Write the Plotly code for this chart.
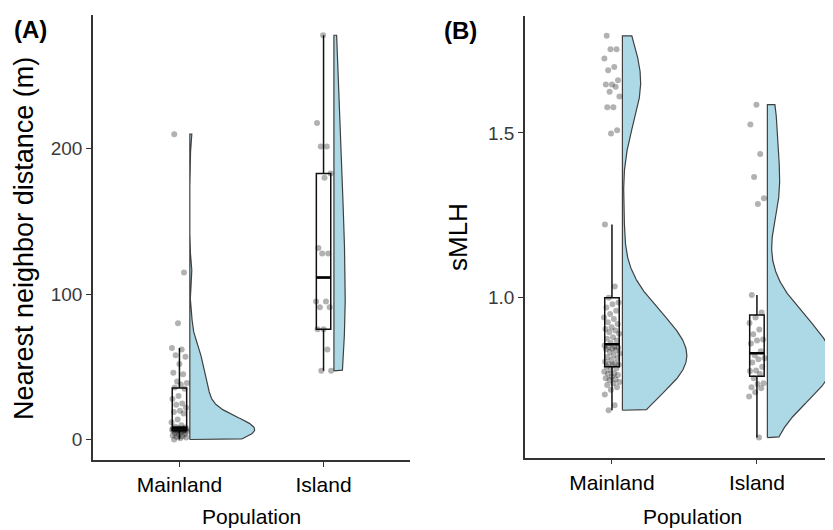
import numpy as np
import plotly.graph_objects as go

# ---------------- data ----------------
categories = ["Mainland", "Island"]

# (A) Nearest neighbor distance (m)
nnd_mainland = [210, 115, 80, 63, 62, 58, 57, 52, 46, 45, 40, 39, 38, 36,
                35, 30, 28, 25, 24, 22, 20, 19, 18, 14, 12, 10, 9, 8.5,
                8, 7.9, 7.8, 7.6, 7.5, 7.4, 7.2, 7.1, 7, 6.9, 6.8, 6.7, 6.6, 6.5,
                6.2, 6, 5.8, 5.5, 5, 4.5, 4, 3.5, 3, 2.5, 2, 1.5, 1, 0.2]
nnd_island = [278, 217.6, 201.6, 201.6, 183, 180, 131.7, 128, 128,
              95, 95, 91, 91, 76, 76, 62, 47.4, 47.4]

# (B) sMLH
smlh_mainland = [1.795, 1.754, 1.754, 1.726, 1.70, 1.69, 1.66, 1.647, 1.647, 1.640,
                 1.625, 1.611, 1.578, 1.578, 1.508, 1.498, 1.222, 1.034, 1.0,
                 0.985, 0.98, 0.97, 0.96, 0.95, 0.94, 0.935, 0.925, 0.92, 0.91,
                 0.905, 0.90, 0.895, 0.89, 0.88, 0.875, 0.87, 0.862,
                 0.855, 0.852, 0.85, 0.848, 0.845, 0.843, 0.84, 0.835, 0.83,
                 0.825, 0.82, 0.815, 0.81, 0.805, 0.80, 0.798, 0.796, 0.795,
                 0.79, 0.785, 0.78, 0.775, 0.77, 0.769, 0.765, 0.76, 0.755,
                 0.752, 0.75, 0.744, 0.74, 0.735, 0.728, 0.72, 0.706, 0.673, 0.658]
smlh_island = [1.586, 1.526, 1.436, 1.366, 1.302, 1.284, 1.008, 0.955,
               0.940, 0.923, 0.903, 0.889, 0.873, 0.870, 0.861, 0.837,
               0.825, 0.816, 0.813, 0.803, 0.79, 0.779, 0.777, 0.768,
               0.755, 0.74, 0.738, 0.728, 0.725, 0.713, 0.70, 0.575]

yticks_a = [0, 100, 200]
yticks_b = [1.0, 1.5]
ytick_text_b = ["1.0", "1.5"]

panel_labels = ["(A)", "(B)"]
ytitles = ["Nearest neighbor distance (m)", "sMLH"]
xtitle = "Population"

# ---------------- style ----------------
FONT = "Liberation Sans, Arial, Helvetica, sans-serif"
VIOLIN_FILL = "#ADD8E6"
VIOLIN_LINE = "#404040"
AX_COL = "#333333"
BW_ADJUST_A = [1.0, 1.6]   # kernel bandwidth multipliers (Mainland, Island)
BW_ADJUST_B = [1.5, 1.5]


def bw_nrd0(x):
    x = np.asarray(x, float)
    sd = x.std(ddof=1)
    q75, q25 = np.percentile(x, [75, 25])
    lo = min(sd, (q75 - q25) / 1.34)
    return 0.9 * lo * len(x) ** -0.2


def kde(x, adjust, n=512):
    x = np.asarray(x, float)
    bw = bw_nrd0(x) * adjust
    grid = np.linspace(x.min(), x.max(), n)
    d = np.exp(-0.5 * ((grid[:, None] - x[None, :]) / bw) ** 2).sum(1)
    d /= len(x) * bw * np.sqrt(2 * np.pi)
    return grid, d


def jitter(n, amp, phase):
    k = np.arange(n)
    frac = (k * 0.6180339887 + phase) % 1.0
    return amp * (2 * frac - 1)


fig = go.Figure()

panels = [
    dict(groups=[nnd_mainland, nnd_island], adj=BW_ADJUST_A, xa="x", ya="y"),
    dict(groups=[smlh_mainland, smlh_island], adj=BW_ADJUST_B, xa="x2", ya="y2"),
]

NUDGE = 0.072
HALF_W = 0.45
BOX_W = 0.1

for p in panels:
    dens = [kde(g, a) for g, a in zip(p["groups"], p["adj"])]
    dmax = max(d.max() for _, d in dens)
    for i, (vals, (grid, d)) in enumerate(zip(p["groups"], dens)):
        x0 = i + NUDGE
        # half violin
        vx = np.concatenate([[x0], x0 + HALF_W * d / dmax, [x0, x0]])
        vy = np.concatenate([[grid[0]], grid, [grid[-1], grid[0]]])
        fig.add_trace(go.Scatter(x=vx, y=vy, mode="lines", fill="toself",
                                 fillcolor=VIOLIN_FILL,
                                 line=dict(color=VIOLIN_LINE, width=1.2),
                                 xaxis=p["xa"], yaxis=p["ya"],
                                 hoverinfo="skip", showlegend=False))
        # box
        fig.add_trace(go.Box(y=vals, x0=i, width=BOX_W, boxpoints="outliers",
                             marker=dict(opacity=0, size=0.1),
                             quartilemethod="linear", whiskerwidth=0,
                             fillcolor="white",
                             line=dict(color="#111111", width=1.5),
                             xaxis=p["xa"], yaxis=p["ya"], showlegend=False))
        # thick median
        med = float(np.median(vals))
        fig.add_trace(go.Scatter(x=[i - BOX_W / 2, i + BOX_W / 2], y=[med, med],
                                 mode="lines", line=dict(color="black", width=2.6),
                                 xaxis=p["xa"], yaxis=p["ya"],
                                 hoverinfo="skip", showlegend=False))
        # jittered points
        fig.add_trace(go.Scatter(x=i + jitter(len(vals), 0.055, 0.17 + 0.3 * i),
                                 y=vals, mode="markers",
                                 marker=dict(size=6, color="rgba(0,0,0,0.3)"),
                                 xaxis=p["xa"], yaxis=p["ya"],
                                 showlegend=False))

W, H = 833, 530
OFF = 8  # page body margin around the plot div


def px_x(v):
    return (v - OFF) / W


def px_y(v):
    return 1 - (v - OFF) / H


xcommon = dict(tickvals=[0, 1], ticktext=categories, ticks="outside", ticklen=5,
               tickcolor=AX_COL, tickwidth=1.2, showline=True, linecolor=AX_COL,
               linewidth=1.5, showgrid=False, zeroline=False,
               tickfont=dict(family=FONT, size=21, color="black"))
ycommon = dict(ticks="outside", ticklen=5, tickcolor=AX_COL, tickwidth=1.2,
               showline=True, linecolor=AX_COL, linewidth=1.5, showgrid=False,
               zeroline=False, tickfont=dict(family=FONT, size=19, color="#3a3a3a"))

fig.update_layout(
    width=W, height=H, margin=dict(l=0, r=0, t=0, b=0),
    paper_bgcolor="white", plot_bgcolor="white", showlegend=False,
    xaxis=dict(domain=[px_x(93), px_x(410)], range=[-0.6, 1.6], anchor="y", **xcommon),
    yaxis=dict(domain=[px_y(460), px_y(15)], range=[-13.9, 291.9], anchor="x",
               tickvals=yticks_a, **ycommon),
    xaxis2=dict(domain=[px_x(525), 1.0], range=[-0.6, 1.58], anchor="y2", **xcommon),
    yaxis2=dict(domain=[px_y(457.7), px_y(15.7)], range=[0.514, 1.856], anchor="x2",
                tickvals=yticks_b, ticktext=ytick_text_b, **ycommon),
    annotations=[
        dict(text="<b>%s</b>" % panel_labels[0], x=px_x(12), y=px_y(30), xref="paper",
             yref="paper", xanchor="left", yanchor="middle", showarrow=False,
             font=dict(family=FONT, size=24, color="black")),
        dict(text="<b>%s</b>" % panel_labels[1], x=px_x(442), y=px_y(31), xref="paper",
             yref="paper", xanchor="left", yanchor="middle", showarrow=False,
             font=dict(family=FONT, size=24, color="black")),
        dict(text=ytitles[0], textangle=-90, x=px_x(24), y=px_y(239), xref="paper",
             yref="paper", xanchor="center", yanchor="middle", showarrow=False,
             font=dict(family=FONT, size=27, color="black")),
        dict(text=ytitles[1], textangle=-90, x=px_x(458), y=px_y(237), xref="paper",
             yref="paper", xanchor="center", yanchor="middle", showarrow=False,
             font=dict(family=FONT, size=26, color="black")),
        dict(text=xtitle, x=px_x(251), y=px_y(530), xref="paper", yref="paper",
             xanchor="center", yanchor="bottom", showarrow=False,
             font=dict(family=FONT, size=21, color="black")),
        dict(text=xtitle, x=px_x(692), y=px_y(530), xref="paper", yref="paper",
             xanchor="center", yanchor="bottom", showarrow=False,
             font=dict(family=FONT, size=21, color="black")),
    ],
)

fig.write_html("out.html")
